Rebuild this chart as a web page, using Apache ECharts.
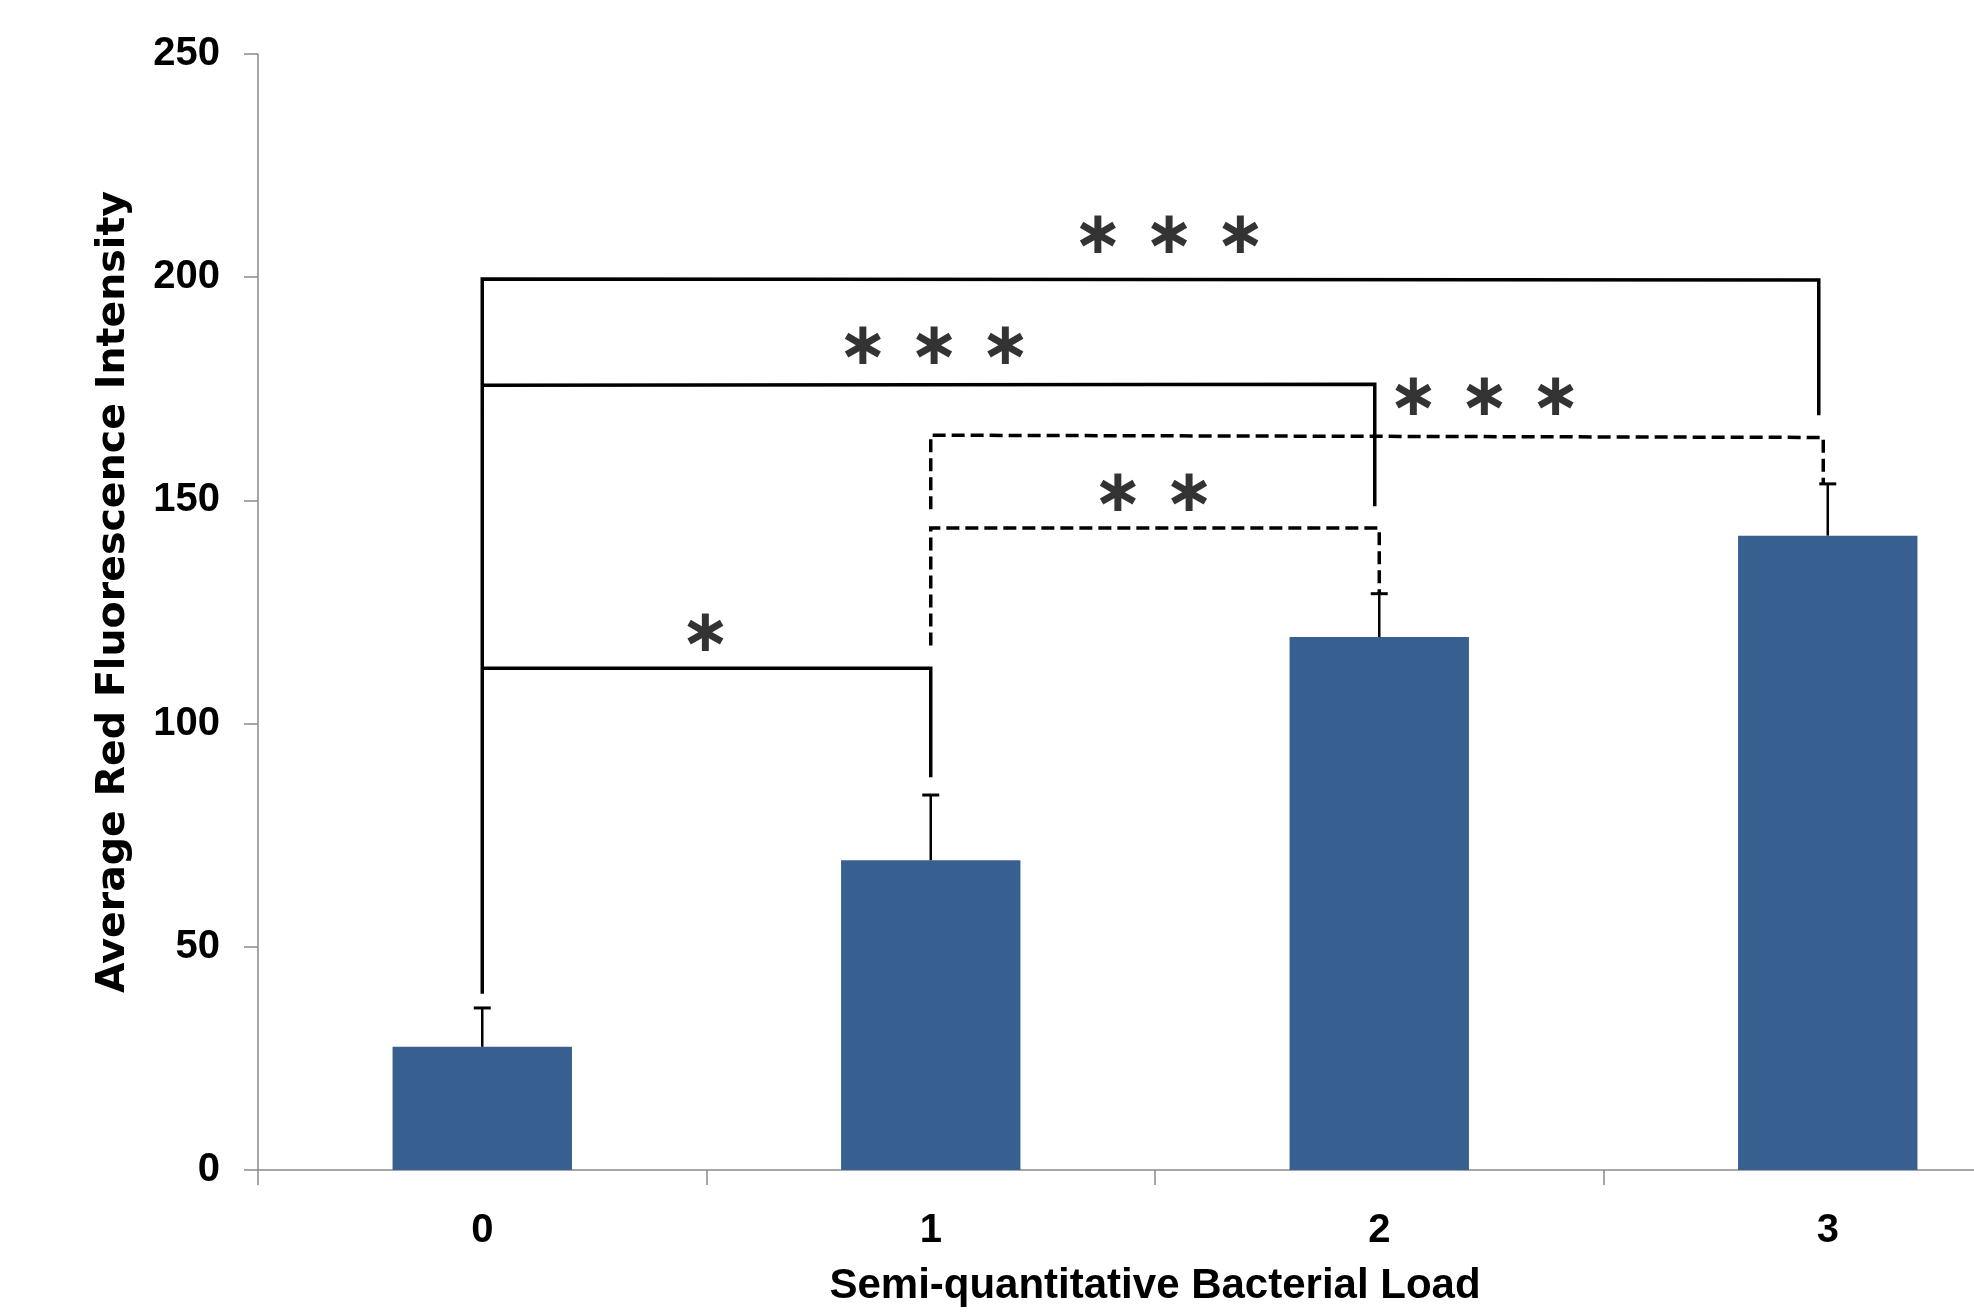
<!DOCTYPE html>
<html>
<head>
<meta charset="utf-8">
<script src="https://cdn.jsdelivr.net/npm/echarts@6/dist/echarts.min.js"></script>
<style>
html,body{margin:0;padding:0;background:#fff;}
#chart{width:1974px;height:1314px;}
</style>
</head>
<body>
<div id="chart"></div>
<script>
// ---- data ----
const categories = ['0', '1', '2', '3'];
const means = [27.6, 69.4, 119.4, 142.1];
const errUpper = [36.3, 84.0, 129.1, 153.7];
const yTicks = [0, 50, 100, 150, 200, 250];

// significance brackets, in data coordinates (x: category position, y: value)
const bracket03 = [[0, 39.5], [0, 199.6], [2.98, 199.4], [2.98, 169.1]];
const bracket02 = [[0, 175.8], [1.99, 176.0], [1.99, 148.7]];
const bracket01 = [[0, 112.4], [1, 112.4], [1, 88.0]];
const bracket12 = [[1, 117.5], [1, 143.8], [2, 143.8], [2, 129.1]];
const bracket13 = [[1, 148.0], [1, 164.6], [2.99, 164.1], [2.99, 153.7]];

const sigText = ['∗ ∗ ∗', '∗ ∗ ∗', '∗ ∗ ∗', '∗ ∗', '∗'];
const sigX = [1.531, 1.007, 2.234, 1.496, 0.497];
const sigY = [208.9, 184.0, 172.6, 151.2, 119.7];

// ---- chart ----
const sans = '"Liberation Sans", Arial, sans-serif';
const chart = echarts.init(document.getElementById('chart'), null, {renderer: 'canvas'});

function bracketSeries(data, dashed) {
  return {
    type: 'line', xAxisIndex: 1, yAxisIndex: 0, data: data,
    symbol: 'none', silent: true, z: 5,
    lineStyle: {color: '#000', width: 3.5, type: dashed ? [13, 6] : 'solid', cap: 'butt', join: 'miter'}
  };
}

const option = {
  animation: false,
  backgroundColor: '#fff',
  grid: {left: 258, top: 54, width: 1794, height: 1116, outerBoundsMode: 'none', containLabel: false},
  xAxis: [{
    type: 'category', data: categories, boundaryGap: true,
    axisLine: {lineStyle: {color: '#8a8a8a', width: 1.5}},
    axisTick: {show: true, length: 15, lineStyle: {color: '#8a8a8a', width: 1.5}},
    axisLabel: {color: '#000', fontFamily: sans, fontWeight: 'bold', fontSize: 40, margin: 41},
    name: 'Semi-quantitative Bacterial Load', nameLocation: 'middle', nameGap: 95,
    nameTextStyle: {color: '#000', fontFamily: sans, fontWeight: 'bold', fontSize: 42}
  }, {
    type: 'value', min: -0.5, max: 3.5, show: false
  }],
  yAxis: {
    type: 'value', min: 0, max: 250, interval: 50,
    splitLine: {show: false},
    axisLine: {show: true, onZero: false, lineStyle: {color: '#8a8a8a', width: 1.5}},
    axisTick: {show: true, length: 14, lineStyle: {color: '#8a8a8a', width: 1.5}},
    axisLabel: {color: '#000', fontFamily: sans, fontWeight: 'bold', fontSize: 40, margin: 38,
      formatter: v => yTicks.indexOf(v) >= 0 ? String(v) : ''},
    name: 'Average Red Fluorescence Intensity', nameLocation: 'middle', nameGap: 124,
    nameTextStyle: {color: '#000', fontFamily: '"DejaVu Sans", sans-serif', fontWeight: 'bold', fontSize: 39.5, padding: [0, 0, 0, 40]}
  },
  series: [
    {
      type: 'bar', data: means, barWidth: '40%', z: 2,
      itemStyle: {color: '#376091'}
    },
    {
      type: 'custom', xAxisIndex: 0, yAxisIndex: 0, z: 3,
      data: categories.map((c, i) => [i, means[i], errUpper[i]]),
      renderItem: function (params, api) {
        const base = api.coord([api.value(0), api.value(1)]);
        const top = api.coord([api.value(0), api.value(2)]);
        return {
          type: 'group',
          children: [
            {type: 'line', shape: {x1: base[0], y1: base[1], x2: top[0], y2: top[1]}, style: {stroke: '#000', lineWidth: 2.5}},
            {type: 'line', shape: {x1: top[0] - 8.5, y1: top[1], x2: top[0] + 8.5, y2: top[1]}, style: {stroke: '#000', lineWidth: 3}}
          ]
        };
      }
    },
    bracketSeries(bracket03, false),
    bracketSeries(bracket02, false),
    bracketSeries(bracket01, false),
    bracketSeries(bracket12, true),
    bracketSeries(bracket13, true),
    {
      type: 'scatter', xAxisIndex: 1, yAxisIndex: 0, z: 6, silent: true,
      symbolSize: 1, itemStyle: {color: 'rgba(0,0,0,0)'},
      data: sigText.map((t, i) => ({value: [sigX[i], sigY[i]], name: t})),
      label: {
        show: true, position: 'inside', formatter: p => p.name,
        color: '#000', fontFamily: '"DejaVu Sans", sans-serif', fontWeight: 'bold', fontSize: 60,
        align: 'center', verticalAlign: 'middle'
      }
    }
  ]
};
chart.setOption(option);
</script>
</body>
</html>
